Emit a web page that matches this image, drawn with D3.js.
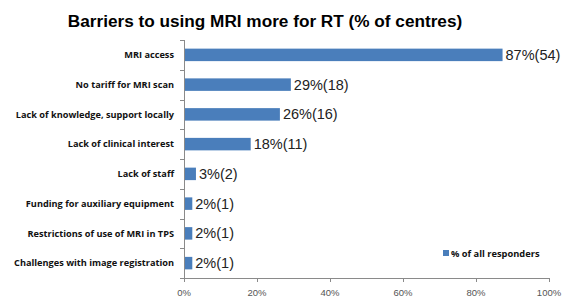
<!DOCTYPE html>
<html><head><meta charset="utf-8">
<script src="https://cdn.jsdelivr.net/npm/d3@7"></script>
<style>body{margin:0;background:#fff}svg{display:block}</style>
</head><body>
<svg id="c" width="563" height="297"></svg>
<script>
const categories = ["MRI access","No tariff for MRI scan","Lack of knowledge, support locally","Lack of clinical interest","Lack of staff","Funding for auxiliary equipment","Restrictions of use of MRI in TPS","Challenges with image registration"];
const percents = [87,29,26,18,3,2,2,2];
const counts = [54,18,16,11,2,1,1,1];
const xTicks = [0,20,40,60,80,100];
const title = "Barriers to using MRI more for RT (% of centres)";
const legendLabel = "% of all responders";

(function(){
const svg = d3.select("#c");
const pLeft = 184, pRight = 549, pTop = 40, pBottom = 278;
const x = d3.scaleLinear().domain([0,100]).range([pLeft,pRight]);
const y = d3.scaleBand().domain(categories).range([pTop,pBottom]).paddingInner(0.58).paddingOuter(0.29);
const color = "#4a7ebb";
const axisColor = "#8a8a8a";

svg.append("text").attr("x",265).attr("y",27).attr("text-anchor","middle")
  .attr("font-family","Liberation Sans, Arial, sans-serif").attr("font-weight","bold")
  .attr("font-size",17.2).attr("fill","#000").text(title);

svg.append("line").attr("x1",pLeft+0.5).attr("x2",pLeft+0.5).attr("y1",pTop).attr("y2",pBottom+0.5).attr("stroke",axisColor);
const bounds = d3.range(categories.length+1).map(i => pTop + i*(pBottom-pTop)/categories.length);
svg.selectAll(".yt").data(bounds).join("line").attr("x1",pLeft-4).attr("x2",pLeft+0.5)
  .attr("y1",d=>Math.round(d)+0.5).attr("y2",d=>Math.round(d)+0.5).attr("stroke",axisColor);

svg.append("line").attr("x1",pLeft).attr("x2",pRight).attr("y1",pBottom+0.5).attr("y2",pBottom+0.5).attr("stroke",axisColor);
svg.selectAll(".xt").data(xTicks).join("line").attr("x1",d=>Math.round(x(d))+0.5).attr("x2",d=>Math.round(x(d))+0.5)
  .attr("y1",pBottom).attr("y2",pBottom+4).attr("stroke",axisColor);
svg.selectAll(".xl").data(xTicks).join("text").attr("x",d=>x(d)).attr("y",296).attr("text-anchor","middle")
  .attr("font-family","Liberation Sans, Arial, sans-serif").attr("font-size",9.5).attr("fill","#555")
  .text(d=>d+"%");

svg.selectAll(".cl").data(categories).join("text").attr("x",174).attr("y",d=>y(d)+y.bandwidth()/2+3.2)
  .attr("text-anchor","end").attr("font-family","Open Sans, sans-serif").attr("font-weight","bold")
  .attr("font-size",9.2).attr("fill","#111").text(d=>d);

const data = categories.map((c,i)=>({c,p:percents[i],n:counts[i]}));
svg.selectAll(".bar").data(data).join("rect").attr("x",pLeft+1).attr("y",d=>y(d.c))
  .attr("width",d=>x(d.p)-pLeft).attr("height",y.bandwidth()).attr("fill",color);

svg.selectAll(".vl").data(data).join("text").attr("x",d=>x(d.p)+4).attr("y",d=>y(d.c)+y.bandwidth()/2+5)
  .attr("font-family","Liberation Sans, Arial, sans-serif").attr("font-size",14.5).attr("fill","#222")
  .text(d=>d.p+"%("+d.n+")");

svg.append("rect").attr("x",443).attr("y",250).attr("width",6).attr("height",6).attr("fill",color);
svg.append("text").attr("x",451).attr("y",256.5).attr("font-family","Open Sans, sans-serif").attr("font-weight","bold")
  .attr("font-size",9.3).attr("fill","#111").text(legendLabel);
})();
</script>
</body></html>
